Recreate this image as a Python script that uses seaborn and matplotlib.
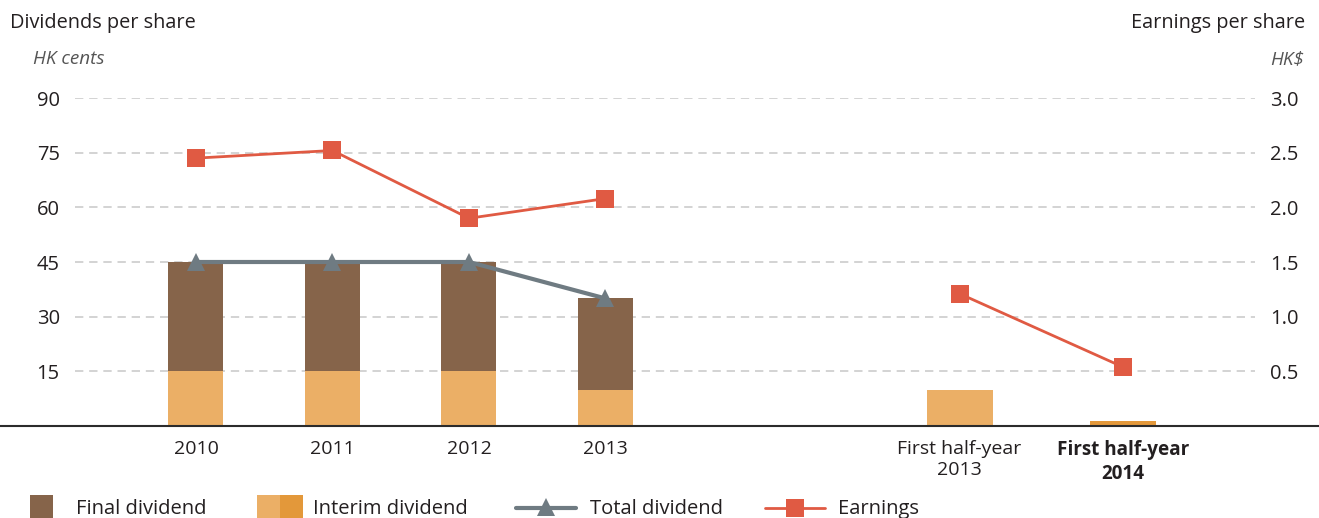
import numpy as np
import pandas as pd
import matplotlib.pyplot as plt
import seaborn as sb
from matplotlib.lines import Line2D
from matplotlib.patches import Rectangle

sb.set_style("white")
plt.rcParams['font.family'] = ['Open Sans', 'DejaVu Sans']

# dividends (HK cents) and earnings (HK$) per share
periods = ['2010', '2011', '2012', '2013', 'First half-year\n2013', 'First half-year\n2014']
xpos = [0, 1, 2, 3, 5.594, 6.79]
interim = [15, 15, 15, 10, 10, 1.3]
final = [30, 30, 30, 25, 0, 0]
total = [45, 45, 45, 35]
eps = [2.45, 2.52, 1.90, 2.08, 1.21, 0.54]
widths = [0.403, 0.403, 0.403, 0.403, 0.484, 0.484]

eps_df = pd.DataFrame({'x': xpos, 'eps': eps, 'grp': ['year'] * 4 + ['half'] * 2})
tot_df = pd.DataFrame({'x': xpos[:4], 'total': total})

brown = '#86644A'
light_orange = '#EBAF66'
dark_orange = '#E3983A'
grey = '#6F7B82'
red = '#E05A43'
txt = '#231F20'

W, H = 1319, 518
fig = plt.figure(figsize=(W / 100, H / 100), dpi=100)
ax = fig.add_axes([75 / W, 1 - 426 / H, (1255 - 75) / W, (426 - 98) / H])

int_colors = [light_orange] * 5 + [dark_orange]
ax.bar(xpos, interim, width=widths, color=int_colors, linewidth=0, zorder=2)
ax.bar(xpos[:4], final[:4], bottom=interim[:4], width=widths[:4], color=brown, linewidth=0, zorder=2)

sb.lineplot(data=tot_df, x='x', y='total', color=grey, lw=3, marker='^',
            markersize=13, markeredgewidth=0, ax=ax, zorder=4)

ax.set_ylim(0, 90)
ax.set_xlim(-0.886, 7.758)
ax.set_yticks([15, 30, 45, 60, 75, 90])
ax.yaxis.grid(True, linestyle=(0, (5, 3.5)), color='#CCCCCC', lw=1.2)
ax.set_axisbelow(True)
ax.set_xticks(xpos)
ax.set_xticklabels(periods, fontsize=14, color=txt, linespacing=1.25)
ax.get_xticklabels()[-1].set_fontweight('bold')
ax.get_xticklabels()[-1].set_fontsize(13.6)
ax.tick_params(axis='x', length=0, pad=10)
ax.tick_params(axis='y', length=0, pad=11, labelsize=14.5, labelcolor=txt)
ax.set_xlabel('')
ax.set_ylabel('')
for s in ax.spines.values():
    s.set_visible(False)

ax2 = ax.twinx()
sb.lineplot(data=eps_df, x='x', y='eps', units='grp', estimator=None, color=red,
            lw=2, marker='s', markersize=13, markeredgewidth=0, ax=ax2, zorder=5)
ax2.set_ylim(0, 3.0)
ax2.set_yticks([0.5, 1.0, 1.5, 2.0, 2.5, 3.0])
ax2.set_yticklabels(['0.5', '1.0', '1.5', '2.0', '2.5', '3.0'])
ax2.tick_params(axis='y', length=0, pad=11, labelsize=14.5, labelcolor=txt)
ax2.set_ylabel('')
ax2.set_xlabel('')
for s in ax2.spines.values():
    s.set_visible(False)

# full width base line
fig.add_artist(Line2D([0, 1], [1 - 426 / H, 1 - 426 / H], transform=fig.transFigure,
                      color='#2B2B2B', lw=1.5))

fig.text(10 / W, 1 - 23 / H, 'Dividends per share', fontsize=14.3, color=txt, va='center', ha='left')
fig.text(33 / W, 1 - 59 / H, 'HK cents', fontsize=13.6, color='#555555', style='italic', va='center', ha='left')
fig.text(1305 / W, 1 - 23 / H, 'Earnings per share', fontsize=14.3, color=txt, va='center', ha='right')
fig.text(1304 / W, 1 - 59 / H, 'HK$', fontsize=13.6, color='#555555', style='italic', va='center', ha='right')

# legend along the bottom
lg = fig.add_axes([0, 0, 1, 40 / H])
lg.set_xlim(0, W)
lg.set_ylim(0, 40)
lg.axis('off')
ly = 10
lg.add_patch(Rectangle((30, 0), 23, 23, color=brown, lw=0))
lg.add_patch(Rectangle((257, 0), 23, 23, color=light_orange, lw=0))
lg.add_patch(Rectangle((280, 0), 23, 23, color=dark_orange, lw=0))
lg.plot([516, 576], [ly, ly], color=grey, lw=3)
lg.plot([546], [ly + 1], marker='^', color=grey, markersize=13, markeredgewidth=0)
lg.plot([765, 825], [ly, ly], color=red, lw=2)
lg.plot([795], [ly], marker='s', color=red, markersize=13, markeredgewidth=0)
lg.text(76, ly - 1, 'Final dividend', fontsize=14.5, color=txt, va='center')
lg.text(313, ly - 1, 'Interim dividend', fontsize=14.5, color=txt, va='center')
lg.text(590, ly - 1, 'Total dividend', fontsize=14.5, color=txt, va='center')
lg.text(838, ly - 1, 'Earnings', fontsize=14.5, color=txt, va='center')

fig.savefig('out.png', dpi=100)
